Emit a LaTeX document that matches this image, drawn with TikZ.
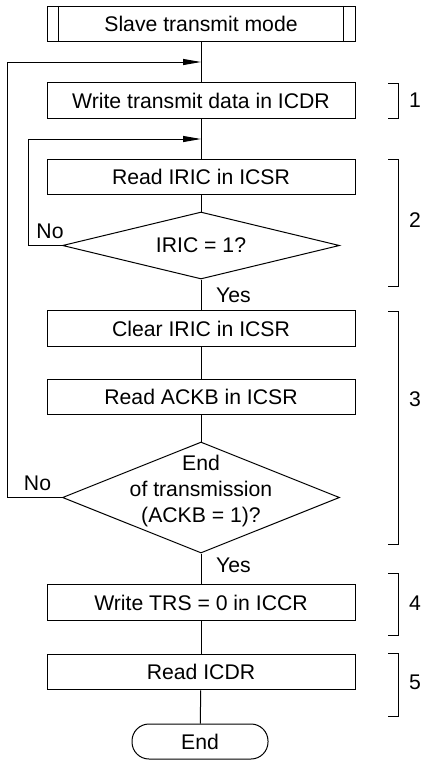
\documentclass[tikz,border=0pt]{standalone}
\usepackage{fontspec}
\setmainfont{Liberation Sans}
\usetikzlibrary{positioning, arrows.meta, shapes.geometric}

\begin{document}
\begin{tikzpicture}[
  x=0.5pt, y=-0.5pt,
  font=\fontsize{10.6}{13}\selectfont,
  line width=0.5pt,
  block/.style={
    draw=black,
    minimum width=154pt,
    minimum height=17.75pt,
    inner sep=0pt,
    align=center
  },
  decision/.style={
    draw=black,
    diamond,
    inner sep=0pt,
    minimum width=138.5pt,
    align=center
  },
  terminal/.style={
    draw=black,
    rounded corners=8.5pt,
    minimum width=68pt,
    minimum height=17.5pt,
    inner sep=0pt
  },
  arrow/.style={
    -{Triangle[length=9pt,width=3pt]}
  },
  numlabel/.style={
    inner sep=0pt
  }
]

\useasboundingbox (0,0) rectangle (424,760);

\node[block] (sub)   at (201,24)    {Slave transmit mode};
\node[block] (write) at (201,100.5) {Write transmit data in ICDR};
\node[block] (riric) at (201,177)   {Read IRIC in ICSR};
\node[decision, aspect=4, minimum height=33.5pt] (iric) at (201,245.5) {IRIC = 1?};
\node[block] (clear) at (201,328.5) {Clear IRIC in ICSR};
\node[block] (rackb) at (201,397)   {Read ACKB in ICSR};
\node[decision, aspect=2.5, minimum height=55.5pt,
      label={[align=center, yshift=3pt]center:End\\of transmission\\(ACKB = 1)?}] (eot) at (201,497.5) {};
\node[block] (wtrs)  at (201,602.5) {Write TRS = 0 in ICCR};
\node[block] (ricdr) at (201,672)   {Read ICDR};
\node[terminal] (end) at (200,741.5) {End};

% subroutine bars
\draw ([xshift=6pt]sub.north west) -- ([xshift=6pt]sub.south west);
\draw ([xshift=-6pt]sub.north east) -- ([xshift=-6pt]sub.south east);

\coordinate (j1) at (201,62);
\coordinate (j2) at (201,139);

\draw (sub)   -- (write);
\draw (write) -- (riric);
\draw (riric) -- (iric);
\draw (iric)  -- node[right=4pt] {Yes} (clear);
\draw (clear) -- (rackb);
\draw (rackb) -- (eot);
\draw (eot)   -- node[right=4pt, yshift=2pt] {Yes} (wtrs);
\draw (wtrs)  -- (ricdr);
\draw (ricdr) -- (end);

% loops back
\draw[arrow] (iric.west) -- node[above, xshift=2.5pt] {No} ++(-34,0) |- (j2);
\draw[arrow] (eot.west)  -- node[above, xshift=1.5pt] {No} ++(-55,0) |- (j1);

% step brackets
\draw (388,83)  -- (398,83)  -- (398,118) -- (388,118);
\draw (388,159) -- (398,159) -- (398,286) -- (388,286);
\draw (388,311) -- (398,311) -- (398,544) -- (388,544);
\draw (388,573) -- (398,573) -- (398,635) -- (388,635);
\draw (388,653) -- (398,653) -- (398,716) -- (388,716);

\node[numlabel] (n1) at (415,100) {1};
\node[numlabel] (n2) at (415,220) {2};
\node[numlabel] (n3) at (415,399) {3};
\node[numlabel] (n4) at (415,603) {4};
\node[numlabel] (n5) at (415,682) {5};

\end{tikzpicture}
\end{document}
